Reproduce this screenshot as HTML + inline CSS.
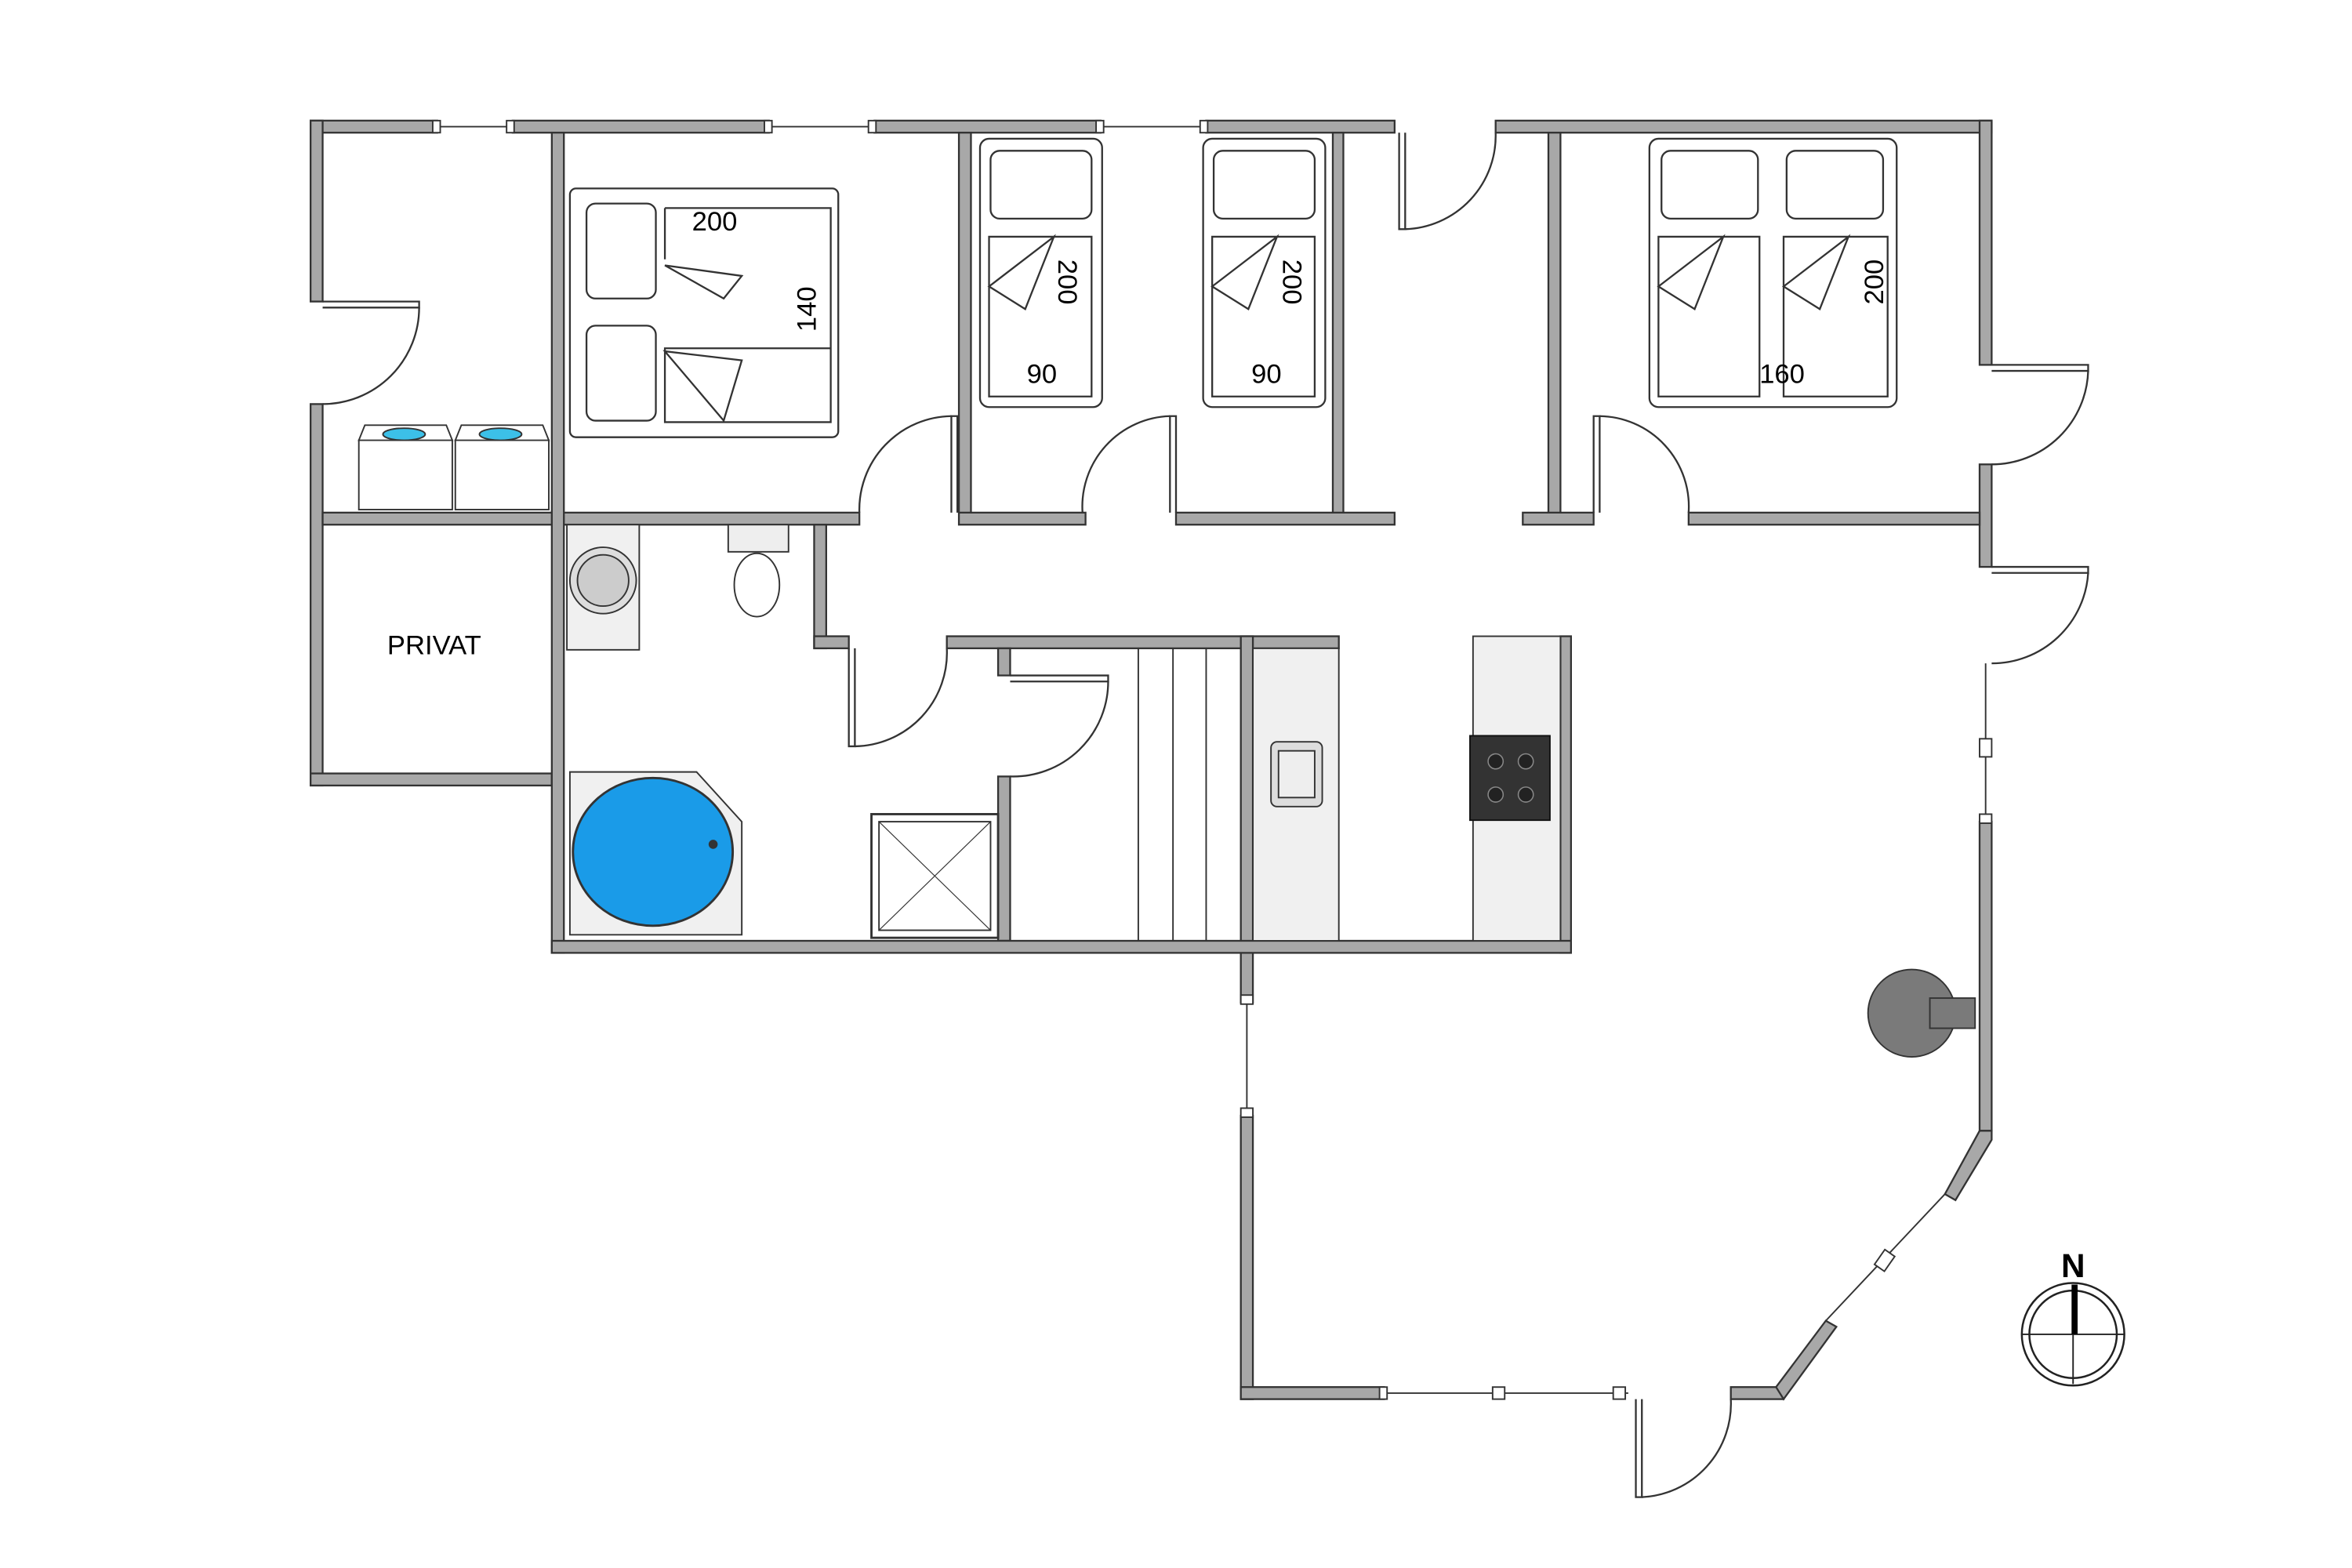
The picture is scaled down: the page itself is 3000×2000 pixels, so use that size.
<!DOCTYPE html>
<html><head><meta charset="utf-8"><style>
html,body{margin:0;padding:0;background:#fff;}
svg{display:block;}
text{font-family:"Liberation Sans",sans-serif;fill:#000;}
</style></head><body>
<svg width="3000" height="2000" viewBox="0 0 1560 1040" xmlns="http://www.w3.org/2000/svg">
<g fill="#a8a8a8" stroke="#333" stroke-width="1.2">
<!-- top wall -->
<rect x="206" y="80" width="84" height="8"/>
<rect x="340" y="80" width="170" height="8"/>
<rect x="580" y="80" width="150" height="8"/>
<rect x="800" y="80" width="125" height="8"/>
<rect x="992" y="80" width="329" height="8"/>
<!-- left wall -->
<rect x="206" y="80" width="8" height="120"/>
<rect x="206" y="268" width="8" height="253"/>
<rect x="206" y="513" width="160" height="8"/>
<!-- right wall -->
<rect x="1313" y="80" width="8" height="162"/>
<rect x="1313" y="308" width="8" height="68"/>
<rect x="1313" y="545" width="8" height="205"/>
<!-- interior horizontal y=340 -->
<rect x="214" y="340" width="356" height="8"/>
<rect x="636" y="340" width="84" height="8"/>
<rect x="780" y="340" width="145" height="8"/>
<rect x="1010" y="340" width="47" height="8"/>
<rect x="1120" y="340" width="193" height="8"/>
<!-- interior verticals -->
<rect x="366" y="88" width="8" height="544"/>
<rect x="636" y="88" width="8" height="252"/>
<rect x="884" y="88" width="7" height="252"/>
<rect x="1027" y="88" width="8" height="252"/>
<!-- bath block -->
<rect x="540" y="348" width="8" height="82"/>
<rect x="540" y="422" width="23" height="8"/>
<rect x="628" y="422" width="260" height="8"/>
<rect x="662" y="430" width="8" height="18"/>
<rect x="662" y="515" width="8" height="109"/>
<rect x="823" y="422" width="8" height="243"/>
<rect x="1035" y="422" width="7" height="210"/>
<rect x="366" y="624" width="676" height="8"/>
<!-- lower living room -->
<rect x="823" y="740" width="8" height="188"/>
<rect x="823" y="920" width="95" height="8"/>
<rect x="1148" y="920" width="35" height="8"/>
<polygon points="1313,750 1321,750 1321,756 1297,796 1290,792"/>
<polygon points="1218,880 1211,876 1178,920 1183,928"/>
</g>
<!-- windows -->
<g stroke="#333" stroke-width="1" fill="#fff">
<line x1="290" y1="84" x2="340" y2="84"/>
<line x1="510" y1="84" x2="580" y2="84"/>
<line x1="730" y1="84" x2="800" y2="84"/>
<line x1="827" y1="665" x2="827" y2="740"/>
<line x1="1317" y1="440" x2="1317" y2="545"/>
<line x1="918" y1="924" x2="1080" y2="924"/>
<line x1="1290" y1="792" x2="1211" y2="876"/>
<rect x="287" y="80" width="5" height="8"/><rect x="336" y="80" width="5" height="8"/>
<rect x="507" y="80" width="5" height="8"/><rect x="576" y="80" width="5" height="8"/>
<rect x="727" y="80" width="5" height="8"/><rect x="796" y="80" width="5" height="8"/>
<rect x="823" y="660" width="8" height="6"/><rect x="823" y="735" width="8" height="6"/>
<rect x="1313" y="490" width="8" height="12"/><rect x="1313" y="540" width="8" height="6"/>
<rect x="915" y="920" width="5" height="8"/><rect x="990" y="920" width="8" height="8"/><rect x="1070" y="920" width="8" height="8"/>
<rect x="1246" y="830" width="8" height="12" transform="rotate(35 1250 836)"/>
</g>
<!-- doors -->
<g fill="none" stroke="#333" stroke-width="1.2">
<path d="M214 200 H278 V204 H214"/><path d="M278 204 A64 64 0 0 1 214 268"/>
<path d="M928 88 V152 H932 V88"/><path d="M932 152 A62 62 0 0 0 992 88"/>
<path d="M635 340 V276 H631 V340"/><path d="M631 276 A62 62 0 0 0 570 340"/>
<path d="M780 340 V276 H776 V340"/><path d="M776 276 A60 60 0 0 0 718 340"/>
<path d="M1057 340 V276 H1061 V340"/><path d="M1061 276 A60 60 0 0 1 1120 340"/>
<path d="M1321 242 H1385 V246 H1321"/><path d="M1385 246 A64 64 0 0 1 1321 308"/>
<path d="M1321 376 H1385 V380 H1321"/><path d="M1385 380 A64 64 0 0 1 1321 440"/>
<path d="M563 430 V495 H567 V430"/><path d="M567 495 A62 62 0 0 0 628 430"/>
<path d="M670 448 H735 V452 H670"/><path d="M735 452 A63 63 0 0 1 670 515"/>
<path d="M1085 928 V993 H1089 V928"/><path d="M1089 993 A62 62 0 0 0 1148 928"/>
</g>
<!-- stairs & counters -->
<rect x="831" y="430" width="57" height="194" fill="#f0f0f0" stroke="#333"/>
<rect x="977" y="422" width="58" height="202" fill="#f0f0f0" stroke="#333"/>
<g stroke="#333" stroke-width="1"><line x1="755" y1="430" x2="755" y2="624"/><line x1="778" y1="430" x2="778" y2="624"/><line x1="800" y1="430" x2="800" y2="624"/></g>
<rect x="843" y="492" width="34" height="43" rx="4" fill="#ddd" stroke="#333"/>
<rect x="848" y="498" width="24" height="31" fill="#eee" stroke="#333"/>
<rect x="975" y="488" width="53" height="56" fill="#333" stroke="#111"/>
<g fill="#222" stroke="#888" stroke-width="0.8"><circle cx="992" cy="505" r="5"/><circle cx="1012" cy="505" r="5"/><circle cx="992" cy="527" r="5"/><circle cx="1012" cy="527" r="5"/></g>
<!-- bath -->
<polygon points="378,512 462,512 492,545 492,620 378,620" fill="#f0f0f0" stroke="#333"/>
<ellipse cx="433" cy="565" rx="53" ry="49" fill="#1a9be8" stroke="#333" stroke-width="1.5"/>
<circle cx="473" cy="560" r="3" fill="#333"/>
<rect x="578" y="540" width="84" height="82" fill="#fff" stroke="#333" stroke-width="1.5"/>
<rect x="583" y="545" width="74" height="72" fill="#fff" stroke="#333"/>
<line x1="583" y1="545" x2="657" y2="617" stroke="#333" stroke-width=".6"/><line x1="657" y1="545" x2="583" y2="617" stroke="#333" stroke-width=".6"/>
<rect x="376" y="348" width="48" height="83" fill="#f0f0f0" stroke="#333"/>
<circle cx="400" cy="385" r="22" fill="#ddd" stroke="#333"/><circle cx="400" cy="385" r="17" fill="#ccc" stroke="#333"/>
<rect x="483" y="348" width="40" height="18" fill="#eee" stroke="#333"/>
<ellipse cx="502" cy="388" rx="15" ry="21" fill="#fff" stroke="#333"/>
<!-- washers -->
<g stroke="#333" fill="#fff"><rect x="238" y="292" width="62" height="46"/><rect x="302" y="292" width="62" height="46"/>
<polygon points="242,282 296,282 300,292 238,292"/><polygon points="306,282 360,282 364,292 302,292"/></g>
<ellipse cx="268" cy="288" rx="14" ry="4" fill="#3cc0e8" stroke="#333"/><ellipse cx="332" cy="288" rx="14" ry="4" fill="#3cc0e8" stroke="#333"/>
<!-- beds -->
<g fill="#fff" stroke="#333" stroke-width="1.2">
<rect x="378" y="125" width="178" height="165" rx="4"/>
<rect x="389" y="135" width="46" height="63" rx="6"/><rect x="389" y="216" width="46" height="63" rx="6"/>
<path d="M441 138 H551 V280 H441 V231 H551 M441 138 V172 M441 176 L492 183 L480 198 Z M441 233 L492 239 L480 279 Z"/>
<rect x="650" y="92" width="81" height="178" rx="6"/><rect x="657" y="100" width="67" height="45" rx="6"/>
<path d="M656 157 H724 V263 H656 Z M699 157 L680 205 L656 190 Z"/>
<rect x="798" y="92" width="81" height="178" rx="6"/><rect x="805" y="100" width="67" height="45" rx="6"/>
<path d="M804 157 H872 V263 H804 Z M847 157 L828 205 L804 190 Z"/>
<rect x="1094" y="92" width="164" height="178" rx="6"/>
<rect x="1102" y="100" width="64" height="45" rx="6"/><rect x="1185" y="100" width="64" height="45" rx="6"/>
<path d="M1100 157 H1167 V263 H1100 Z M1183 157 H1252 V263 H1183 Z M1143 157 L1124 205 L1100 190 Z M1226 157 L1207 205 L1183 190 Z"/>
</g>
<g font-size="18">
<text x="474" y="153" text-anchor="middle">200</text>
<text x="535" y="205" text-anchor="middle" transform="rotate(-90 535 205)" dy="6">140</text>
<text x="708" y="187" text-anchor="middle" transform="rotate(90 708 187)" dy="6">200</text>
<text x="691" y="254" text-anchor="middle">90</text>
<text x="857" y="187" text-anchor="middle" transform="rotate(90 857 187)" dy="6">200</text>
<text x="840" y="254" text-anchor="middle">90</text>
<text x="1243" y="187" text-anchor="middle" transform="rotate(-90 1243 187)" dy="6">200</text>
<text x="1182" y="254" text-anchor="middle">160</text>
<text x="288" y="434" text-anchor="middle">PRIVAT</text>
</g>
<!-- fireplace -->
<circle cx="1268" cy="672" r="29" fill="#7a7a7a" stroke="#333"/>
<rect x="1280" y="662" width="30" height="20" fill="#7a7a7a" stroke="#333"/>
<!-- compass -->
<ellipse cx="1375" cy="885" rx="34" ry="34" fill="none" stroke="#222" stroke-width="1.3"/>
<ellipse cx="1375" cy="885" rx="29" ry="29" fill="none" stroke="#222" stroke-width="1.3"/>
<line x1="1341" y1="885" x2="1409" y2="885" stroke="#222"/><line x1="1375" y1="855" x2="1375" y2="918" stroke="#222"/>
<line x1="1376" y1="852" x2="1376" y2="885" stroke="#000" stroke-width="4"/>
<text x="1375" y="847" text-anchor="middle" font-size="22" font-weight="bold">N</text>
</svg>
</body></html>
